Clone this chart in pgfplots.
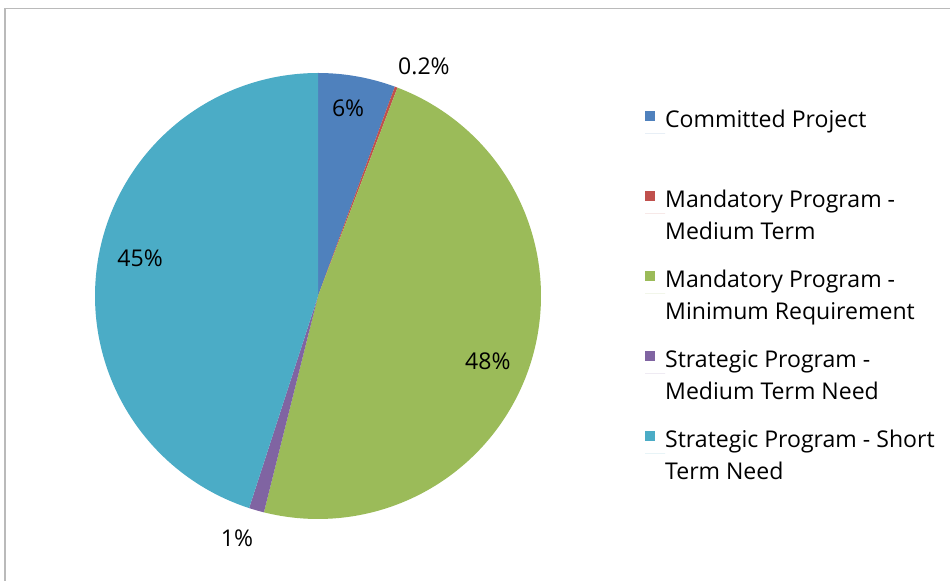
\documentclass[border=0pt]{standalone}
\usepackage{pgfplots}
\pgfplotsset{compat=1.18}
\usepackage{fontspec}
\setmainfont{Open Sans}
\definecolor{cBlue}{HTML}{4F81BD}
\definecolor{cRed}{HTML}{C0504D}
\definecolor{cGreen}{HTML}{9BBB59}
\definecolor{cPurple}{HTML}{8064A2}
\definecolor{cCyan}{HTML}{4BACC6}
\gdef\cumsum{0}
% #1 colour, #2 value (percent), #3 legend text
\newcommand{\pieslice}[3]{%
  \pgfmathsetmacro{\angB}{90-3.6*\cumsum}%
  \pgfmathsetmacro{\newcum}{\cumsum+#2}%
  \xdef\cumsum{\newcum}%
  \pgfmathsetmacro{\angA}{90-3.6*\cumsum}%
  \edef\doslice{\noexpand\addplot[fill=#1, draw=none, domain=\angA:\angB, samples=150] ({cos(x)},{sin(x)}) -- (axis cs:0,0) -- cycle;}%
  \doslice
  \addlegendentry{#3}%
}
\newcommand{\lfont}{\fontsize{17.3}{24}\selectfont}
\begin{document}
\begin{tikzpicture}
\useasboundingbox (0,0) rectangle (712.5pt,435.75pt);
\fill[white] (0,0) rectangle (712.5pt,435.75pt);
\draw[color=black!27, line width=1.1pt] (3.75pt,-2pt) |- (715pt,429.4pt);
\begin{axis}[
  at={(238.5pt,213.75pt)}, anchor=center,
  width=334.5pt, height=334.5pt, scale only axis,
  xmin=-1, xmax=1, ymin=-1, ymax=1,
  hide axis, clip=false,
  legend style={draw=none, fill=none, at={(1.233,0.928)}, anchor=north west,
    row sep=17.6pt, column sep=0pt, inner sep=0pt,
    nodes={inner sep=0pt, align=left, font=\lfont}},
  legend cell align=left,
  legend image code/.code={\fill[#1] (0pt,9.4pt) rectangle (7.5pt,16.9pt); \path (0pt,0pt) -- (15pt,0pt);},
]
\pieslice{cBlue}{5.6}{{\strut Committed Project\\\strut}}
\pieslice{cRed}{0.2}{{\strut Mandatory Program -\\Medium Term\strut}}
\pieslice{cGreen}{48.1}{{\strut Mandatory Program -\\Minimum Requirement\strut}}
\pieslice{cPurple}{1.1}{{\strut Strategic Program -\\Medium Term Need\strut}}
\pieslice{cCyan}{45.0}{{\strut Strategic Program - Short\\Term Need\strut}}
\node[font=\lfont] at (axis cs:0.135,0.843) {6\%};
\node[font=\lfont] at (axis cs:0.475,1.031) {0.2\%};
\node[font=\lfont] at (axis cs:0.762,-0.292) {48\%};
\node[font=\lfont] at (axis cs:-0.363,-1.085) {1\%};
\node[font=\lfont] at (axis cs:-0.798,0.170) {45\%};
\end{axis}
\end{tikzpicture}
\end{document}
